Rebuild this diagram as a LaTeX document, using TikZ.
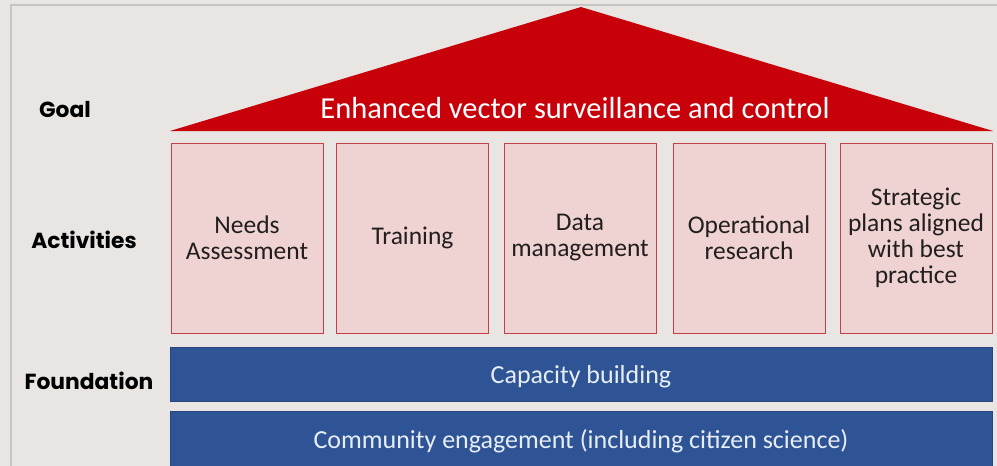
\documentclass[tikz,border=0pt]{standalone}
\usepackage{fontspec}
\setmainfont{Carlito}
\newfontfamily\rowfont{Poppins}

\definecolor{pagegray}{RGB}{232,229,226}
\definecolor{framegray}{RGB}{196,196,196}
\definecolor{goalred}{RGB}{200,0,10}
\definecolor{boxfill}{RGB}{239,211,211}
\definecolor{boxedge}{RGB}{196,64,72}
\definecolor{boxtext}{RGB}{34,30,30}
\definecolor{basefill}{RGB}{46,84,150}
\definecolor{baseedge}{RGB}{40,70,125}
\definecolor{basetext}{RGB}{232,238,246}

\newcommand\rowlabelstyle{\rowfont\bfseries\fontsize{21.8}{26}\selectfont}
\newcommand\boxtextstyle{\fontsize{25.5}{26}\selectfont}
\newcommand\basetextstyle{\fontsize{26}{30}\selectfont}
\newcommand\goaltextstyle{\fontsize{30.5}{34}\selectfont}

\tikzset{
  rowlabel/.style={inner sep=0pt, text=black, font=\rowlabelstyle},
  activity/.style={draw=boxedge, fill=boxfill, line width=1pt, inner sep=0pt,
    minimum width=152pt, minimum height=190pt, align=center,
    text=boxtext, font=\boxtextstyle},
  basebar/.style={draw=baseedge, fill=basefill, line width=.8pt, inner sep=0pt,
    minimum width=822pt, text depth=0pt, text=basetext, font=\basetextstyle},
}

\begin{document}
\begin{tikzpicture}[x=1pt, y=-1pt]
  \useasboundingbox (0,0) rectangle (997,466);
  \fill[pagegray] (0,0) rectangle (997,466);
  \draw[framegray, line width=1.5pt] (11,466) -- (11,5) -- (997,5);

  % row labels
  \node[rowlabel] (lblgoal) at (65,110) {Goal};
  \node[rowlabel] (lblactivities) at (84,240) {Activities};
  \node[rowlabel] (lblfoundation) at (89,381) {Foundation};

  % roof
  \fill[goalred] (170,131) -- (581,7) -- (993,131) -- cycle;
  \node[text=white, font=\goaltextstyle, inner sep=0pt, text depth=0pt] (goal) at (575,108)
    {Enhanced vector surveillance and control};

  % pillars
  \node[activity] (needs) at (247,238) {Needs\\Assessment};
  \node[activity] (training) at (412.5,238) {Training};
  \node[activity] (data) at (580,238) {Data\\management};
  \node[activity] (research) at (749,238) {Operational\\research};
  \node[activity] (plans) at (916,238) {Strategic\\plans aligned\\with best\\practice};

  % foundation
  \node[basebar, minimum height=54pt] (capacity) at (581,374) {Capacity building};
  \node[basebar, minimum height=56pt] (community) at (581,439)
    {Community engagement (including citizen science)};
\end{tikzpicture}
\end{document}
